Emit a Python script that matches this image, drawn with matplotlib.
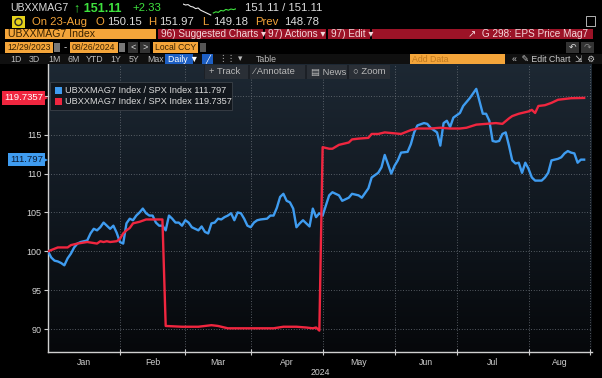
import numpy as np
import pandas as pd
import matplotlib
matplotlib.use("Agg")
import matplotlib.pyplot as plt
from matplotlib.patches import Rectangle, Ellipse
from matplotlib.colors import LinearSegmentedColormap
from matplotlib.transforms import blended_transform_factory

plt.rcParams['font.family'] = ['Liberation Sans', 'DejaVu Sans']

# ---------------- data ----------------
ticker = "UBXXMAG7"
last_price = "151.11"
change = "+2.33"
bid_ask = "151.11 / 151.11"
quote_date = "On 23-Aug"
quote_fields = [("O", "150.15"), ("H", "151.97"), ("L", "149.18"), ("Prev", "148.78")]
start_date_txt = "12/29/2023"
end_date_txt = "08/26/2024"
series_label = "UBXXMAG7 Index / SPX Index"

spark_white = [9.5, 9.0, 9.2, 8.3, 8.0, 7.2, 7.5, 6.4, 5.8, 5.2, 4.6, 4.0]
spark_green = [5.0, 5.6, 5.3, 6.3, 6.0, 6.8, 6.4, 7.0, 6.7, 7.1]

holidays = ["2024-01-01", "2024-01-15", "2024-02-19", "2024-03-29",
            "2024-05-27", "2024-06-19", "2024-07-04"]

blue_dates = [
    "2023-12-29", "2024-01-02", "2024-01-03", "2024-01-04", "2024-01-05", "2024-01-08",
    "2024-01-09", "2024-01-10", "2024-01-11", "2024-01-12", "2024-01-16", "2024-01-18",
    "2024-01-19", "2024-01-22", "2024-01-23", "2024-01-24", "2024-01-25", "2024-01-26",
    "2024-01-29", "2024-01-30", "2024-01-31", "2024-02-01", "2024-02-02", "2024-02-05",
    "2024-02-06", "2024-02-07", "2024-02-08", "2024-02-09", "2024-02-12", "2024-02-13",
    "2024-02-14", "2024-02-15", "2024-02-16", "2024-02-20", "2024-02-21", "2024-02-22",
    "2024-02-23", "2024-02-26", "2024-02-27", "2024-02-28", "2024-02-29", "2024-03-01",
    "2024-03-04", "2024-03-05", "2024-03-06", "2024-03-07", "2024-03-08", "2024-03-11",
    "2024-03-12", "2024-03-13", "2024-03-14", "2024-03-15", "2024-03-18", "2024-03-19",
    "2024-03-20", "2024-03-21", "2024-03-22", "2024-03-25", "2024-03-26", "2024-03-27",
    "2024-03-28", "2024-04-01", "2024-04-02", "2024-04-03", "2024-04-04", "2024-04-08",
    "2024-04-09", "2024-04-10", "2024-04-11", "2024-04-12", "2024-04-15", "2024-04-16",
    "2024-04-17", "2024-04-18", "2024-04-19", "2024-04-22", "2024-04-23", "2024-04-24",
    "2024-04-25", "2024-04-26", "2024-04-29", "2024-04-30", "2024-05-01", "2024-05-03",
    "2024-05-06", "2024-05-08", "2024-05-09", "2024-05-13", "2024-05-14", "2024-05-16",
    "2024-05-17", "2024-05-21", "2024-05-22", "2024-05-24", "2024-05-28", "2024-05-29",
    "2024-05-31", "2024-06-03", "2024-06-04", "2024-06-05", "2024-06-07", "2024-06-10",
    "2024-06-11", "2024-06-12", "2024-06-14", "2024-06-17", "2024-06-18", "2024-06-21",
    "2024-06-24", "2024-06-25", "2024-06-26", "2024-06-27", "2024-06-28", "2024-07-02",
    "2024-07-03", "2024-07-08", "2024-07-09", "2024-07-10", "2024-07-12", "2024-07-15",
    "2024-07-16", "2024-07-17", "2024-07-18", "2024-07-19", "2024-07-22", "2024-07-23",
    "2024-07-24", "2024-07-25", "2024-07-26", "2024-07-29", "2024-07-30", "2024-07-31",
    "2024-08-01", "2024-08-02", "2024-08-05", "2024-08-07", "2024-08-08", "2024-08-09",
    "2024-08-12", "2024-08-14", "2024-08-15", "2024-08-16", "2024-08-19", "2024-08-20",
    "2024-08-21", "2024-08-22", "2024-08-23", "2024-08-26",
]
blue_values = [
    100.0, 99.2, 98.8, 98.7, 98.5, 98.2,
    99.1, 99.7, 100.5, 101.0, 101.2, 101.4,
    102.3, 102.9, 102.7, 103.1, 103.7, 103.3,
    102.9, 103.3, 102.4, 101.2, 101.0, 103.6,
    104.2, 104.0, 104.6, 105.0, 105.5, 104.9,
    104.6, 104.6, 103.7, 103.3, 103.3, 102.7,
    104.6, 104.2, 103.7, 103.7, 103.3, 104.0,
    103.7, 103.1, 102.9, 102.7, 103.2, 102.5,
    102.3, 103.6, 103.7, 104.2, 104.1, 104.4,
    104.6, 104.9, 104.0, 105.0, 104.9, 104.2,
    103.3, 103.1, 103.7, 104.0, 104.1, 104.2,
    104.6, 104.6, 105.6, 107.0, 107.4, 106.5,
    106.3, 105.5, 103.1, 103.6, 104.0, 103.6,
    103.2, 105.5, 104.4, 104.9, 104.6, 107.2,
    107.6, 107.2, 106.5, 106.9, 107.4, 107.2,
    106.9, 108.1, 109.5, 110.1, 110.8, 112.4,
    110.0, 111.0, 111.7, 112.7, 112.8, 113.8,
    115.3, 116.2, 116.5, 116.4, 115.9, 115.3,
    113.6, 116.5, 116.8, 116.0, 117.2, 117.8,
    118.7, 119.7, 120.3, 120.9, 117.7, 117.7,
    116.8, 114.2, 114.1, 114.2, 115.1, 115.3,
    113.6, 111.7, 111.3, 111.4, 110.1, 111.4,
    110.6, 109.5, 109.1, 109.1, 109.5, 110.1,
    111.7, 111.9, 112.1, 112.6, 112.9, 112.7,
    112.6, 111.4, 111.8, 111.797,
]

red_dates = [
    "2023-12-29", "2024-01-04", "2024-01-09", "2024-01-10", "2024-01-12", "2024-01-18",
    "2024-01-23", "2024-01-24", "2024-01-25", "2024-01-26", "2024-01-29", "2024-01-31",
    "2024-02-01", "2024-02-02", "2024-02-05", "2024-02-06", "2024-02-07", "2024-02-09",
    "2024-02-13", "2024-02-15", "2024-02-21", "2024-02-22", "2024-02-29", "2024-03-07",
    "2024-03-13", "2024-03-15", "2024-03-20", "2024-03-27", "2024-04-04", "2024-04-10",
    "2024-04-15", "2024-04-19", "2024-04-24", "2024-04-26", "2024-04-29", "2024-04-30",
    "2024-05-01", "2024-05-03", "2024-05-06", "2024-05-08", "2024-05-09", "2024-05-13",
    "2024-05-14", "2024-05-16", "2024-05-21", "2024-05-22", "2024-05-24", "2024-05-29",
    "2024-06-05", "2024-06-10", "2024-06-12", "2024-06-18", "2024-06-24", "2024-06-27",
    "2024-07-02", "2024-07-05", "2024-07-10", "2024-07-15", "2024-07-18", "2024-07-22",
    "2024-07-24", "2024-07-25", "2024-07-29", "2024-07-31", "2024-08-01", "2024-08-02",
    "2024-08-05", "2024-08-06", "2024-08-08", "2024-08-12", "2024-08-14", "2024-08-20",
    "2024-08-26",
]
red_values = [
    100.0, 100.5, 100.5, 100.8, 101.0, 101.2,
    101.0, 101.3, 101.2, 101.3, 101.2, 101.3,
    101.6, 102.3, 102.7, 103.0, 103.6, 103.8,
    104.1, 104.1, 104.1, 90.4, 90.3, 90.3,
    90.5, 90.4, 90.1, 90.1, 90.1, 90.1,
    90.3, 90.3, 90.2, 90.1, 90.2, 89.8,
    113.4, 113.2, 113.2, 113.7, 113.8, 114.0,
    114.4, 114.5, 114.6, 115.1, 115.1, 115.3,
    115.1, 115.6, 115.8, 115.8, 115.9, 115.8,
    115.8, 115.9, 116.3, 116.4, 116.5, 116.4,
    117.1, 117.4, 117.7, 117.9, 118.0, 118.2,
    117.8, 118.7, 118.8, 119.1, 119.5, 119.7,
    119.7357,
]

month_labels = ["Jan", "Feb", "Mar", "Apr", "May", "Jun", "Jul", "Aug"]
year_label = "2024"
y_ticks = [90, 95, 100, 105, 110, 115, 120]

# ---------------- colours ----------------
BLUE = "#3f9cf0"
RED = "#f0263f"
ORANGE = "#f4a53a"
BARRED = "#9c1327"
GREEN = "#3ee23e"
LIGHT = "#dcdcdc"

W, H = 602, 378
fig = plt.figure(figsize=(W / 100, H / 100), dpi=100)
fig.patch.set_facecolor("black")


def fx(x):
    return x / W


def fy(y):
    return 1 - y / H


def box(x0, y0, x1, y1, color, z=5, ec="none", lw=0.0):
    fig.patches.append(Rectangle((fx(x0), fy(y1)), (x1 - x0) / W, (y1 - y0) / H,
                                 transform=fig.transFigure, facecolor=color,
                                 edgecolor=ec, linewidth=lw, zorder=z))


def label(x, y, s, color, size, ha="left", weight="normal", z=6):
    fig.text(fx(x), fy(y), s, color=color, fontsize=size, ha=ha, va="center",
             fontweight=weight, zorder=z)


# ---------------- header ----------------
label(10, 8, ticker, LIGHT, 7.6)
label(74, 8, "↑ " + last_price, GREEN, 9, weight="bold")
label(132, 8, change, GREEN, 8.2)
label(245, 8, bid_ask, LIGHT, 8.2)

sp = fig.add_axes([fx(183), fy(16), (236 - 183) / W, 13 / H])
sp.set_axis_off()
nw = len(spark_white)
sp.plot(range(nw), spark_white, color="#e8e8e8", lw=0.8)
sp.plot(range(nw, nw + len(spark_green)), spark_green, color=GREEN, lw=0.8)
sp.set_xlim(0, nw + len(spark_green) - 1)
sp.set_ylim(3.5, 10)

box(12, 16, 25, 28, "#e6d21a", z=5)
fig.patches.append(Ellipse((fx(18.5), fy(22)), 7 / W, 7 / H, transform=fig.transFigure,
                           facecolor="none", edgecolor="#2a2a2a", linewidth=1.0, zorder=6))
label(32, 22, quote_date, ORANGE, 8.2)
qx = [96, 148, 202, 255]
for (k, v), x in zip(quote_fields, qx):
    label(x, 22, k, ORANGE, 8.2)
    label(x + (29 if k == "Prev" else 11), 22, v, LIGHT, 8.2)
box(586, 16, 595, 26, "none", z=5, ec="#cfcfcf", lw=0.6)

# bar row 3
box(5, 29, 156, 39, ORANGE)
label(8, 34, ticker + " Index", "#3a2200", 7.6)
box(158, 29, 263, 39, BARRED)
label(161, 34, "96) Suggested Charts ▾", "#f3d6da", 7.2)
box(265, 29, 326, 39, BARRED)
label(268, 34, "97) Actions ▾", "#f3d6da", 7.2)
box(328, 29, 370, 39, BARRED)
label(331, 34, "97) Edit ▾", "#f3d6da", 7.2)
box(372, 29, 593, 39, BARRED)
label(588, 34, "↗  G 298: EPS Price Mag7", "#f3d6da", 7.2, ha="right")

# row 4 - dates
box(5, 42, 53, 53, ORANGE)
label(7, 47.5, start_date_txt, "#3a2200", 6.2)
box(54, 43, 60, 52, "#777777")
label(64, 47.5, "-", LIGHT, 7)
box(70, 42, 118, 53, ORANGE)
label(72, 47.5, end_date_txt, "#3a2200", 6.2)
box(119, 43, 125, 52, "#777777")
box(128, 42, 138, 53, "#333333")
label(133, 47.5, "<", LIGHT, 6.5, ha="center")
box(140, 42, 150, 53, "#333333")
label(145, 47.5, ">", LIGHT, 6.5, ha="center")
box(153, 42, 198, 53, ORANGE)
label(155, 47.5, "Local CCY", "#3a2200", 6.2)
box(200, 43, 206, 52, "#555555")
box(566, 42, 579, 53, "#333333")
label(572.5, 47.5, "↶", LIGHT, 6.5, ha="center")
box(581, 42, 594, 53, "#333333")
label(587.5, 47.5, "↷", "#888888", 6.5, ha="center")

# row 5 - timeframe
box(0, 54, 602, 64, "#101010", z=4)
for s, x in zip(["1D", "3D", "1M", "6M", "YTD", "1Y", "5Y", "Max"],
                [10, 29, 48, 67, 86, 110, 129, 147]):
    label(x, 59, s, "#bbbbbb", 6.3)
box(165, 54.5, 193, 63.5, "#1d5fc4")
label(168, 59, "Daily ▼", "white", 6.3)
box(202, 54.5, 213, 63.5, "#1d5fc4")
label(207.5, 59, "╱", "white", 6, ha="center")
label(218, 59, "⋮⋮", "#bbbbbb", 6.3)
label(238, 59, "▾", "#bbbbbb", 6.3)
label(256, 59, "Table", "#bbbbbb", 6.3)
box(410, 54.5, 505, 63.5, ORANGE)
label(412, 59, "Add Data", "#c07a20", 6.3)
label(512, 59, "«  ✎ Edit Chart  ⇲  ⚙", "#cccccc", 6.3)

# ---------------- chart ----------------
days = pd.bdate_range("2023-12-29", "2024-08-26")
days = days[~days.isin(pd.to_datetime(holidays))]
day_pos = pd.Series(np.arange(len(days), dtype=float), index=days)
bx = day_pos[pd.to_datetime(blue_dates)].values
rx = day_pos[pd.to_datetime(red_dates)].values

x_right = len(days) - 1 + 2.4
y_lo, y_hi = 87.05, 124.1

ax = fig.add_axes([fx(48), fy(352), (592 - 48) / W, (352 - 64) / H])
ax.set_xlim(0, x_right)
ax.set_ylim(y_lo, y_hi)
ax.set_facecolor("#0d1117")
cmap = LinearSegmentedColormap.from_list("bg", ["#06080b", "#111820", "#1d2833"])
ax.imshow(np.linspace(0, 1, 256).reshape(-1, 1), extent=[0, x_right, y_lo, y_hi],
          aspect="auto", cmap=cmap, origin="lower", zorder=0)

month_first = [day_pos[days[days.month == m][0]] for m in range(2, 9)]
bounds = [0.0] + month_first + [x_right - 0.6]
mids = [(a + b) / 2 for a, b in zip(bounds[:-1], bounds[1:])]
ax.set_xticks(bounds[1:])
ax.set_xticklabels([])
ax.set_xticks(mids, minor=True)
ax.set_xticklabels(month_labels, minor=True)
ax.tick_params(axis="x", which="major", direction="inout", length=4, color="#cccccc", width=0.8)
ax.tick_params(axis="x", which="minor", length=0, pad=4, labelsize=6.3, labelcolor="#cfcfcf")

ax.set_yticks(y_ticks)
ax.set_yticklabels([str(v) if v < 120 else "" for v in y_ticks])
ax.tick_params(axis="y", direction="out", length=3, width=0.8, color="#cccccc",
               pad=1.5, labelsize=6.5, labelcolor="#d6d6d6")

ax.grid(True, which="major", color="#6e747c", linestyle=(0, (1, 2.2)), linewidth=0.6, zorder=1)
for s in ["top", "right"]:
    ax.spines[s].set_visible(False)
for s in ["left", "bottom"]:
    ax.spines[s].set_color("#d0d0d0")
    ax.spines[s].set_linewidth(1.0)

ax.plot(bx, blue_values, color=BLUE, lw=1.7, solid_joinstyle="round", zorder=3)
ax.plot(rx, red_values, color=RED, lw=1.7, solid_joinstyle="round", zorder=4)

ax.text(0.5, -0.072, year_label, transform=ax.transAxes, ha="center", va="center",
        fontsize=6.3, color="#cfcfcf")

# last value tags
trans = blended_transform_factory(ax.transAxes, ax.transData)
for val, fc, tc in [(red_values[-1], RED, "white"), (blue_values[-1], BLUE, "#0b1a33")]:
    ax.text(-0.0095, val, str(val), transform=trans, ha="right", va="center",
            fontsize=6.8, color=tc, zorder=10, clip_on=False,
            bbox=dict(boxstyle="square,pad=0.22", fc=fc, ec="none"))
    ax.plot([-0.006], [val], marker=">", ms=5, color=fc, transform=trans,
            clip_on=False, zorder=10, markeredgewidth=0)

# in-chart toolbar
box(204, 65, 390, 79, "#1c2026", z=5)
for s, x0, x1 in [("+ Track", 205, 248), ("∕ Annotate", 250, 305), ("▤ News", 307, 347), ("○ Zoom", 349, 390)]:
    box(x0, 65.5, x1, 78.5, "#2a2f36", z=5)
    label(x0 + 4, 72, s, "#b8b8b8", 6.8)

# legend
box(50, 82, 232, 110, "#12171d", z=5, ec="#3b4148", lw=0.6)
box(55, 87, 62, 94, BLUE, z=6)
box(55, 98, 62, 105, RED, z=6)
label(65, 90.5, f"{series_label} {blue_values[-1]}", LIGHT, 6.6)
label(65, 101.5, f"{series_label} {red_values[-1]}", LIGHT, 6.6)

fig.savefig("out.png", dpi=100, facecolor="black")
